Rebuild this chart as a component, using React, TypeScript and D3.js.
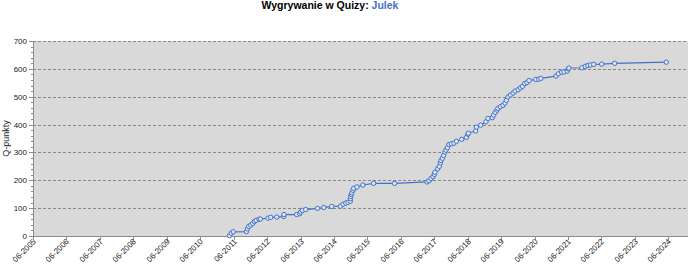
import React from "react";
import * as d3 from "d3";

const dates: string[] = [
  "2011-04-17","2011-05-06","2011-05-28","2011-10-19","2011-10-30","2011-11-13","2011-12-05","2011-12-27",
  "2012-01-14","2012-02-01","2012-03-04","2012-03-19","2012-06-10","2012-07-10","2012-09-14","2012-11-29",
  "2012-12-02","2013-04-20","2013-05-23","2013-06-03","2013-06-21","2013-07-28","2013-12-03","2014-02-10",
  "2014-05-08","2014-08-11","2014-09-08","2014-10-08","2014-11-01","2014-11-27","2014-11-28","2014-11-30",
  "2014-12-08","2014-12-14","2014-12-25","2015-01-02","2015-02-07","2015-04-13","2015-08-08","2016-03-25",
  "2017-03-13","2017-04-04","2017-04-26","2017-05-18","2017-06-02","2017-06-08","2017-07-08","2017-07-26",
  "2017-08-06","2017-08-13","2017-08-28","2017-09-11","2017-09-25","2017-10-06","2017-10-22","2017-11-08",
  "2017-12-05","2018-01-02","2018-01-28","2018-03-27","2018-05-17","2018-06-04","2018-06-08","2018-08-27",
  "2018-09-04","2018-10-21","2018-12-17","2019-01-08","2019-02-25","2019-03-11","2019-03-29","2019-04-16",
  "2019-04-27","2019-05-23","2019-06-21","2019-07-13","2019-07-28","2019-08-15","2019-09-10","2019-10-09",
  "2019-10-31","2019-12-03","2019-12-29","2020-01-20","2020-02-13","2020-03-10","2020-04-01","2020-06-14",
  "2020-07-16","2020-08-08","2021-01-20","2021-02-14","2021-03-22","2021-04-17","2021-05-22","2021-06-03",
  "2021-06-10","2021-10-30","2021-12-05","2022-01-03","2022-01-31","2022-03-08","2022-06-03","2022-10-23",
  "2024-05-09",
];

const points: number[] = [
  1,10,15,16,26,34,39,45,
  52,56,60,61,64,67,68,70,
  77,77,80,86,92,95,99,102,
  106,107,114,118,121,125,134,142,
  149,155,164,171,176,183,189,189,
  194,198,206,213,221,229,241,250,
  262,271,279,289,301,308,317,328,
  331,333,340,347,354,365,369,377,
  391,398,410,422,425,434,444,452,
  458,464,469,477,487,499,506,513,
  520,525,532,537,547,551,558,562,
  563,566,574,582,588,589,592,600,
  603,604,609,612,614,616,617,620,
  624,
];

const tickYears: number[] = d3.range(2005, 2025);
const yTicks: number[] = [0, 100, 200, 300, 400, 500, 600, 700];
const yMinorTicks: number[] = d3.range(0, 701, 20);

const titleText = "Wygrywanie w Quizy: ";
const titleName = "Julek";
const yLabel = "Q-punkty";

const W = 689, H = 266;
const left = 33, right = 688, top = 41, bottom = 236;
const font = "'Liberation Sans', Arial, sans-serif";

export default function App() {
  const parse = d3.timeParse("%Y-%m-%d");
  const x = d3.scaleTime()
    .domain([new Date(2005, 5, 1), new Date(2025, 0, 1)])
    .range([left, right]);
  const y = d3.scaleLinear().domain([0, 700]).range([bottom, top]);
  const data = dates.map((d, i) => ({ d: parse(d) as Date, v: points[i] }));
  const line = d3.line<{ d: Date; v: number }>()
    .x((p) => x(p.d))
    .y((p) => y(p.v));

  return (
    <svg width={W} height={H} style={{ position: "absolute", left: 0, top: 0, background: "#fff" }}
      fontFamily={font}>
      <text x={330} y={9} textAnchor="middle" fontSize={10.5} fontWeight="bold" fill="#000">
        {titleText}
        <tspan fill="#4472C4">{titleName}</tspan>
      </text>
      <rect x={left} y={top} width={right - left} height={bottom - top} fill="#d9d9d9" />
      {yTicks.filter((t) => t > 0).map((t) => (
        <line key={"g" + t} x1={left} x2={right} y1={Math.round(y(t)) + 0.5} y2={Math.round(y(t)) + 0.5}
          stroke="#888" strokeWidth={1} strokeDasharray="3,2" />
      ))}
      {/* axes */}
      <line x1={left + 0.5} x2={left + 0.5} y1={top} y2={bottom} stroke="#8c8c8c" />
      <line x1={left} x2={right} y1={bottom + 0.5} y2={bottom + 0.5} stroke="#8c8c8c" />
      {yMinorTicks.map((t) => (
        <line key={"m" + t} x1={left - 2} x2={left} y1={Math.round(y(t)) + 0.5} y2={Math.round(y(t)) + 0.5}
          stroke="#8c8c8c" />
      ))}
      {yTicks.map((t) => (
        <g key={"y" + t}>
          <line x1={left - 4} x2={left} y1={Math.round(y(t)) + 0.5} y2={Math.round(y(t)) + 0.5} stroke="#8c8c8c" />
          <text x={left - 6} y={y(t) + 3} textAnchor="end" fontSize={8} fill="#222">{t}</text>
        </g>
      ))}
      {tickYears.map((yr) => {
        const px = Math.round(x(new Date(yr, 5, 1))) + 0.5;
        return (
          <g key={"x" + yr}>
            <line x1={px} x2={px} y1={bottom} y2={bottom + 4} stroke="#8c8c8c" />
            <text transform={`translate(${px + 3},${bottom + 6}) rotate(-45)`} textAnchor="end"
              fontSize={8} fill="#222">{`06-${yr}`}</text>
          </g>
        );
      })}
      <text transform={`translate(9,${(top + bottom) / 2}) rotate(-90)`} textAnchor="middle"
        fontSize={9} fill="#222">{yLabel}</text>
      <path d={line(data) ?? ""} fill="none" stroke="#4472C4" strokeWidth={1.2} />
      {data.map((p, i) => (
        <circle key={i} cx={x(p.d)} cy={y(p.v)} r={2.2} fill="#dce6f7" stroke="#4472C4" strokeWidth={1} />
      ))}
    </svg>
  );
}
